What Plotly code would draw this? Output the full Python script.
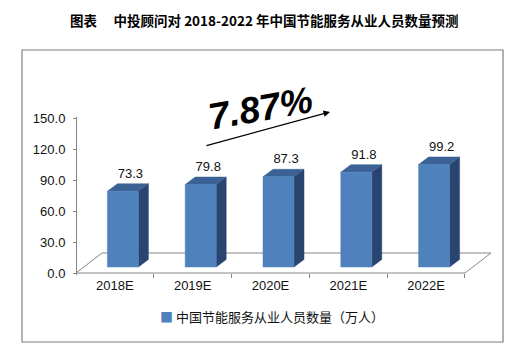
import plotly.graph_objects as go

# ---- data ----
categories = ["2018E", "2019E", "2020E", "2021E", "2022E"]
values = [73.3, 79.8, 87.3, 91.8, 99.2]
series_name = "中国节能服务从业人员数量（万人）"
title_text = "图表　 中投顾问对 2018-2022 年中国节能服务从业人员数量预测"
growth_text = "7.87%"
y_ticks = [0, 30, 60, 90, 120, 150]

# ---- layout geometry (pixels) ----
W, H = 515, 349
px_x0, px_x1 = 76, 465          # front floor edge: x=-0.5 .. 4.5
px_y0, px_y150 = 273, 118       # y=0 and y=150
ux = (px_x1 - px_x0) / 5.0      # px per category unit
uy = (px_y0 - px_y150) / 150.0  # px per value unit

xr = [-0.53, 4.87]
yr = [-1.5, 150.5]
dom_x = [(px_x0 + (xr[0] + 0.5) * ux) / W, (px_x0 + (xr[1] + 0.5) * ux) / W]
dom_y = [1 - (px_y0 - yr[0] * uy) / H, 1 - (px_y0 - yr[1] * uy) / H]

# 3D projection offsets in data units
fdx, fdy = 26 / ux, 20 / uy      # floor depth
off, base = 8 / ux, 6 / uy        # bar placement inside the floor
bw = 31 / ux                       # bar width
ddx, ddy = 10 / ux, 7.5 / uy       # bar depth

front_c, top_c, side_c = "#4F81BD", "#3C6295", "#2A4470"
grid_c = "#868686"

fig = go.Figure()

# floor
fig.add_trace(go.Scatter(
    x=[-0.5, 4.5, 4.5 + fdx, -0.5 + fdx, -0.5],
    y=[0, 0, fdy, fdy, 0],
    mode="lines", line=dict(color=grid_c, width=1),
    hoverinfo="skip", showlegend=False))

fx, fy, tx, ty, sx, sy = [], [], [], [], [], []
for i, v in enumerate(values):
    xl = i + off - bw / 2
    xrr = i + off + bw / 2
    b, t = base, base + v
    fx += [xl, xrr, xrr, xl, xl, None]
    fy += [b, b, t, t, b, None]
    tx += [xl, xrr, xrr + ddx, xl + ddx, xl, None]
    ty += [t, t, t + ddy, t + ddy, t, None]
    sx += [xrr, xrr + ddx, xrr + ddx, xrr, xrr, None]
    sy += [b, b + ddy, t + ddy, t, b, None]

for xs, ys, c in [(sx, sy, side_c), (tx, ty, top_c), (fx, fy, front_c)]:
    fig.add_trace(go.Scatter(x=xs, y=ys, mode="lines", fill="toself",
                             fillcolor=c, line=dict(color=c, width=0.5),
                             hoverinfo="skip", showlegend=False))

# data labels
fig.add_trace(go.Scatter(
    x=[i + 0.2 for i in range(len(values))],
    y=[v + 22 for v in values],
    mode="text", text=[f"{v:.1f}" for v in values],
    textfont=dict(family="Liberation Sans, Arial", size=13, color="#111"),
    textposition="middle center", cliponaxis=False,
    hoverinfo="skip", showlegend=False))

fig.update_layout(
    width=W, height=H,
    margin=dict(l=0, r=0, t=0, b=0, autoexpand=False),
    paper_bgcolor="white", plot_bgcolor="rgba(0,0,0,0)",
    showlegend=False,
    xaxis=dict(domain=dom_x, range=xr, anchor="free",
               position=1 - 276 / H,
               tickvals=list(range(len(categories))), ticktext=categories,
               ticks="", showline=False, showgrid=False, zeroline=False,
               tickfont=dict(family="Liberation Sans, Arial", size=13, color="#111")),
    xaxis2=dict(overlaying="x", range=xr, anchor="free",
                position=1 - px_y0 / H,
                tickvals=[0.5, 1.5, 2.5, 3.5, 4.5],
                ticks="outside", ticklen=4, tickcolor=grid_c, tickwidth=1,
                showticklabels=False, showline=False, showgrid=False,
                zeroline=False),
    yaxis=dict(domain=dom_y, range=yr, anchor="free", position=px_x0 / W,
               tickvals=y_ticks, tickformat=".1f",
               ticks="outside", ticklen=3, tickcolor=grid_c,
               ticklabelstandoff=5,
               showline=True, linecolor=grid_c, linewidth=1,
               showgrid=False, zeroline=False,
               tickfont=dict(family="Liberation Sans, Arial", size=13, color="#111")),
)

# dummy trace for xaxis2 so it renders
fig.add_trace(go.Scatter(x=[None], y=[None], xaxis="x2", yaxis="y",
                         showlegend=False, hoverinfo="skip"))

# frame
fig.add_shape(type="rect", xref="paper", yref="paper",
              x0=22 / W, x1=503 / W, y0=1 - 342 / H, y1=1 - 50 / H,
              line=dict(color="#7f7f7f", width=1.2))

# title
fig.add_annotation(text="<b>" + title_text + "</b>", xref="paper", yref="paper",
                   x=264 / W, y=1 - 20 / H, showarrow=False,
                   xanchor="center", yanchor="middle",
                   font=dict(family="Noto Sans CJK SC", size=13.5, color="#000"))

# growth label and arrow
fig.add_annotation(text="<b><i>" + growth_text + "</i></b>", xref="paper", yref="paper",
                   x=260 / W, y=1 - 108 / H, showarrow=False, textangle=-10,
                   xanchor="center", yanchor="middle",
                   font=dict(family="Liberation Sans, Arial", size=37, color="#000"))
fig.add_annotation(text="", xref="paper", yref="paper",
                   x=330 / W, y=1 - 112 / H, ax=-125, ay=34,
                   showarrow=True, arrowhead=2, arrowsize=1, arrowwidth=1.3,
                   arrowcolor="#000")

# legend (manual)
fig.add_annotation(text='<span style="color:' + front_c + '">■</span> ' + series_name,
                   xref="paper", yref="paper", x=158 / W, y=1 - 316 / H,
                   xanchor="left", yanchor="middle", showarrow=False,
                   font=dict(family="Noto Sans CJK SC", size=13, color="#111"))

fig.write_html("out.html")
